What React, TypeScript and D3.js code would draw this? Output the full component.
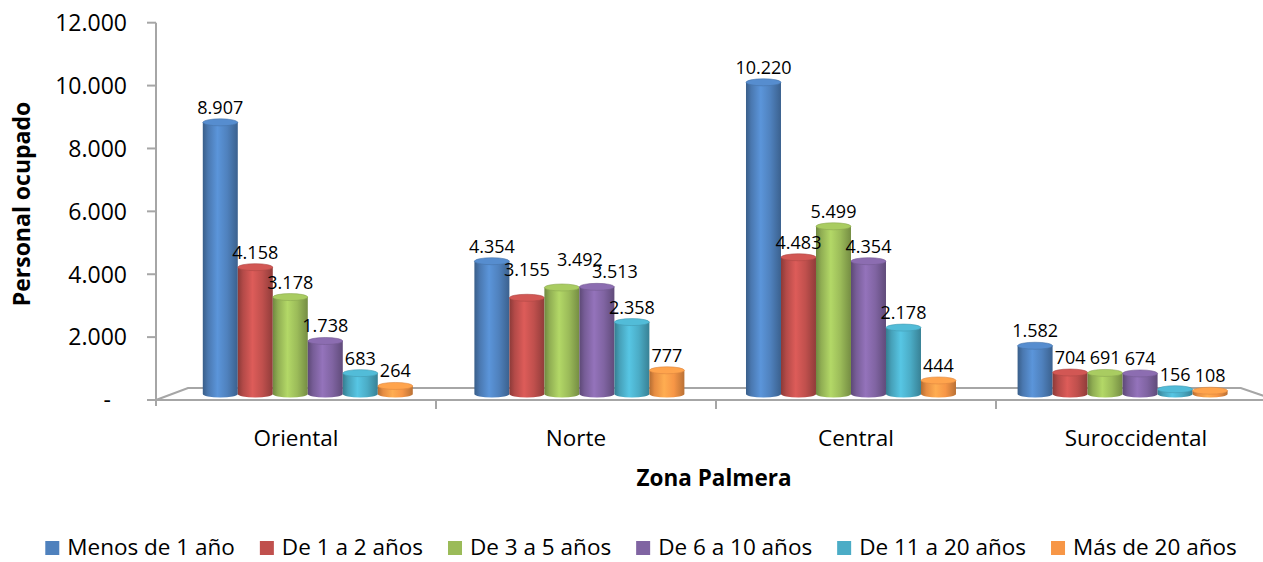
import React, { useEffect, useRef } from 'react';
import * as d3 from 'd3';

// categories and series (personal ocupado por zona palmera y antigüedad)
const zonas = ['Oriental', 'Norte', 'Central', 'Suroccidental'];
const rangos = ['Menos de 1 año', 'De 1 a 2 años', 'De 3 a 5 años', 'De 6 a 10 años', 'De 11 a 20 años', 'Más de 20 años'];
const menos1 = [8907, 4354, 10220, 1582];
const de1a2 = [4158, 3155, 4483, 704];
const de3a5 = [3178, 3492, 5499, 691];
const de6a10 = [1738, 3513, 4354, 674];
const de11a20 = [683, 2358, 2178, 156];
const mas20 = [264, 777, 444, 108];
const yTicks = [0, 2000, 4000, 6000, 8000, 10000, 12000];
const colores = ['#4F81BD', '#C0504D', '#9BBB59', '#8064A2', '#4BACC6', '#F79646'];

const W = 1263, H = 562;
const FONT = '"Open Sans", Lato, sans-serif';

const App = () => {
    const ref = useRef<SVGSVGElement>(null);

    useEffect(() => {
        document.body.style.margin = '0';
        const valores = [menos1, de1a2, de3a5, de6a10, de11a20, mas20];
        const svg = d3.select(ref.current);
        svg.selectAll('*').remove();

        const fmt = d3.formatLocale({ decimal: ',', thousands: '.', grouping: [3], currency: ['', ''] }).format(',d');

        // front plane scales
        const x0 = d3.scaleBand<string>().domain(zonas).range([156, 1276]);
        const x1 = d3.scaleBand<string>().domain(rangos).range([0, x0.bandwidth()]).paddingOuter(0.88);
        const y = d3.scaleLinear().domain([0, 12000]).range([400, 22.7]);

        // simple perspective towards a vanishing point; depth 0 = front, 1 = back wall
        const vp = [689, 200];
        const proj = (px: number, py: number, d: number) => {
            const s = 1 - 0.06 * d;
            return [vp[0] + (px - vp[0]) * s, vp[1] + (py - vp[1]) * s];
        };

        const defs = svg.append('defs');
        colores.forEach((c, i) => {
            const g = defs.append('linearGradient').attr('id', 'cyl' + i).attr('x1', '0').attr('x2', '1').attr('y1', '0').attr('y2', '0');
            const base = d3.color(c)!;
            [[0, base.darker(0.9)], [0.15, base.darker(0.2)], [0.42, base.brighter(0.4)], [0.7, base], [1, base.darker(0.8)]].forEach(([o, col]: any) => {
                g.append('stop').attr('offset', o).attr('stop-color', col.toString());
            });
        });

        const axisColor = '#a6a6a6';

        // floor
        const fl = proj(x0.range()[0], y(0), 0), fr = proj(x0.range()[1], y(0), 0);
        const bl = proj(x0.range()[0], y(0), 1), br = proj(x0.range()[1], y(0), 1);
        svg.append('path')
            .attr('d', `M${fl[0]},${fl[1]}L${bl[0]},${bl[1]}L${br[0]},${br[1]}L${fr[0]},${fr[1]}Z`)
            .attr('fill', '#ffffff').attr('stroke', axisColor).attr('stroke-width', 2.2);

        // y axis
        svg.append('line').attr('x1', 156).attr('x2', 156).attr('y1', y(12000)).attr('y2', y(0) + 6)
            .attr('stroke', axisColor).attr('stroke-width', 2);
        const yt = svg.append('g');
        yTicks.forEach(t => {
            yt.append('line').attr('x1', 147).attr('x2', 156).attr('y1', y(t)).attr('y2', y(t)).attr('stroke', axisColor).attr('stroke-width', 2);
            yt.append('text').attr('x', t === 0 ? 111 : 127).attr('y', y(t)).attr('dy', '0.36em')
                .attr('text-anchor', 'end').attr('font-family', FONT).attr('font-size', 23).attr('fill', '#000')
                .text(t === 0 ? '-' : fmt(t));
        });

        // x ticks and labels
        const xt = svg.append('g');
        zonas.forEach((z, i) => {
            if (i > 0) xt.append('line').attr('x1', x0(z)!).attr('x2', x0(z)!).attr('y1', y(0)).attr('y2', y(0) + 9).attr('stroke', axisColor).attr('stroke-width', 2);
            xt.append('text').attr('x', x0(z)! + x0.bandwidth() / 2).attr('y', 446)
                .attr('text-anchor', 'middle').attr('font-family', FONT).attr('font-size', 22.5).text(z);
        });

        // cylinders
        const ry = 3.5;
        const bars = svg.append('g');
        const labels = svg.append('g');
        zonas.forEach((z, zi) => {
            const grpLabels: any[] = [];
            rangos.forEach((r, si) => {
                const v = valores[si][zi];
                const xf = x0(z)! + x1(r)!;
                const left = proj(xf, y(0), 0.5)[0];
                const right = proj(xf + x1.bandwidth(), y(0), 0.5)[0];
                const base = proj(xf, y(0), 0.5)[1];
                const top = proj(xf, y(v), 0.5)[1];
                const cx = (left + right) / 2, rx = (right - left) / 2;
                const grp = bars.append('g');
                grp.append('path')
                    .attr('d', `M${left},${top}L${left},${base}A${rx},${ry} 0 0 0 ${right},${base}L${right},${top}Z`)
                    .attr('fill', `url(#cyl${si})`);
                grp.append('ellipse').attr('cx', cx).attr('cy', top).attr('rx', rx).attr('ry', ry)
                    .attr('fill', d3.color(colores[si])!.brighter(0.25).toString())
                    .attr('stroke', d3.color(colores[si])!.darker(0.3).toString()).attr('stroke-width', 0.6);
                const t = labels.append('text').attr('x', cx).attr('y', top - ry - 5)
                    .attr('text-anchor', 'middle').attr('font-family', FONT).attr('font-size', 18).text(fmt(v));
                grpLabels.push(t);
            });
            // lift a label when it collides with its right neighbour
            for (let i = grpLabels.length - 2; i >= 0; i--) {
                const a = (grpLabels[i].node() as SVGTextElement).getBBox();
                const b = (grpLabels[i + 1].node() as SVGTextElement).getBBox();
                const ox = a.x + a.width > b.x + 1 && b.x + b.width > a.x;
                const oy = a.y + a.height > b.y + 2 && b.y + b.height > a.y;
                if (ox && oy) {
                    grpLabels[i].attr('y', +grpLabels[i].attr('y') - 13);
                    grpLabels[i + 1].attr('x', +grpLabels[i + 1].attr('x') + 18);
                }
            }
        });

        // axis titles
        svg.append('text').attr('transform', `translate(30,204) rotate(-90)`)
            .attr('text-anchor', 'middle').attr('font-family', FONT).attr('font-weight', 'bold').attr('font-size', 23).text('Personal ocupado');
        svg.append('text').attr('x', 714).attr('y', 486)
            .attr('text-anchor', 'middle').attr('font-family', FONT).attr('font-weight', 'bold').attr('font-size', 22.5).text('Zona Palmera');

        // legend, laid out from measured text widths
        const leg = svg.append('g');
        const items = rangos.map((r, i) => {
            const g = leg.append('g');
            g.append('rect').attr('x', 0).attr('y', -14).attr('width', 14).attr('height', 14).attr('fill', colores[i]);
            const t = g.append('text').attr('x', 22).attr('y', 0)
                .attr('font-family', FONT).attr('font-size', 22.5).text(r);
            return { g, w: 22 + (t.node() as SVGTextElement).getComputedTextLength() };
        });
        const gap = 25;
        const total = d3.sum(items, d => d.w) + gap * (items.length - 1);
        let cur = 641 - total / 2;
        items.forEach(it => {
            it.g.attr('transform', `translate(${cur},555)`);
            cur += it.w + gap;
        });
    }, []);

    return <svg ref={ref} width={W} height={H} style={{ display: 'block', background: '#fff' }} />;
};

export default App;
